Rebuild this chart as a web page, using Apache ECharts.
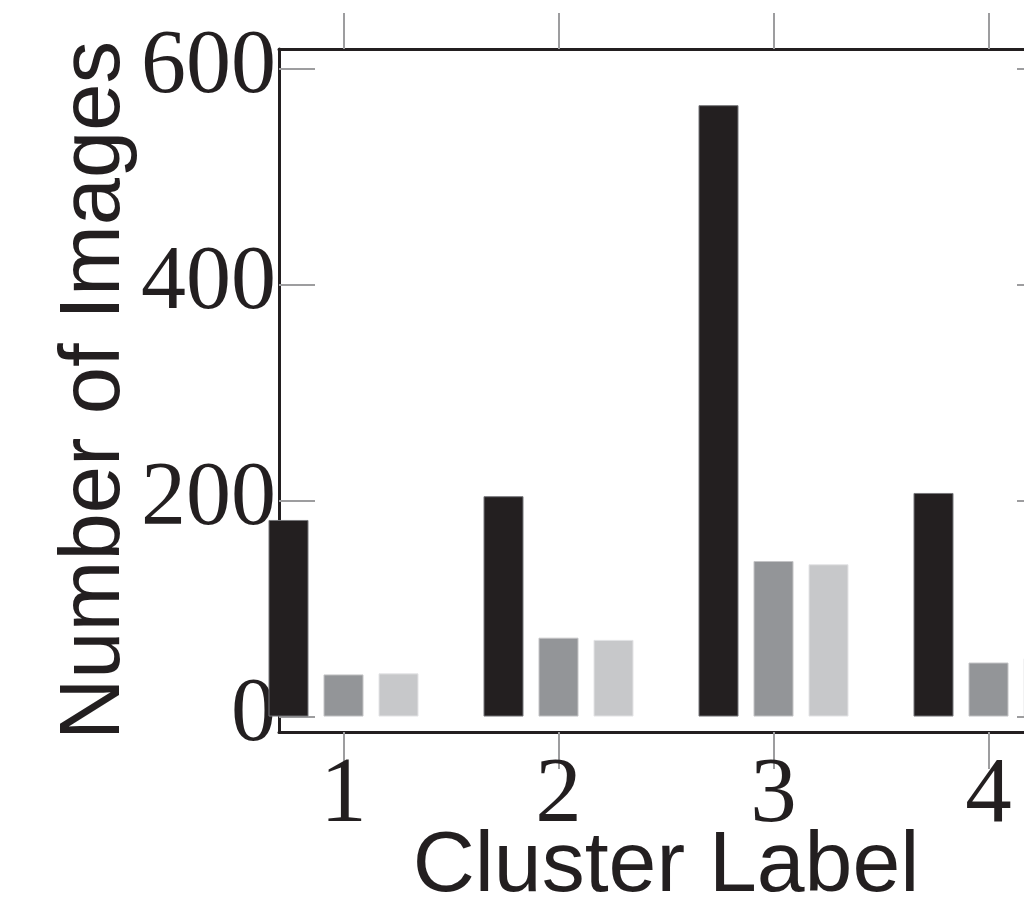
<!DOCTYPE html>
<html><head><meta charset="utf-8">
<script src="https://cdn.jsdelivr.net/npm/echarts@6/dist/echarts.min.js"></script>
<style>html,body{margin:0;padding:0;background:#fff}#c{width:1024px;height:912px}</style>
</head><body><div id="c"></div>
<script>
const clusters = [1, 2, 3, 4];
const seriesDark = [182, 204, 566, 207];
const seriesMid = [39, 73, 144, 50];
const seriesLight = [40, 71, 141, 54];
const yTicks = [0, 200, 400, 600];
const xName = 'Cluster Label';
const yName = 'Number of Images';

const frame = '#231f20';
const tickColor = '#9d9d9f';
const serif = '"Liberation Serif", "Times New Roman", serif';
const sans = '"Liberation Sans", Arial, sans-serif';

function pairs(vals) { return clusters.map((c, i) => [c, vals[i]]); }

const chart = echarts.init(document.getElementById('c'), null, { renderer: 'canvas' });
chart.setOption({
  animation: false,
  backgroundColor: '#ffffff',
  grid: { left: 279, top: 49, width: 774, height: 683, containLabel: false, outerBoundsMode: 'none' },
  xAxis: [
    {
      type: 'value', position: 'bottom', min: 0.7, max: 4.3,
      name: xName, nameLocation: 'middle', nameGap: 92, nameMoveOverlap: false,
      nameTextStyle: { fontFamily: sans, fontSize: 86, color: frame },
      axisLine: { show: true, onZero: false, lineStyle: { color: frame, width: 3 } },
      axisTick: { show: true, inside: false, length: 37, customValues: clusters, lineStyle: { color: tickColor, width: 2 } },
      axisLabel: { show: true, customValues: clusters, margin: 18, fontFamily: serif, fontSize: 93, color: frame, formatter: v => String(v) },
      splitLine: { show: false }
    },
    {
      type: 'value', position: 'top', min: 0.7, max: 4.3,
      axisLine: { show: true, onZero: false, lineStyle: { color: frame, width: 3 } },
      axisTick: { show: true, inside: false, length: 36, customValues: clusters, lineStyle: { color: tickColor, width: 2 } },
      axisLabel: { show: false },
      splitLine: { show: false }
    }
  ],
  yAxis: [
    {
      type: 'value', position: 'left', min: -14.3, max: 618,
      name: yName, nameLocation: 'middle', nameGap: 141, nameRotate: 90, nameMoveOverlap: false,
      nameTextStyle: { fontFamily: sans, fontSize: 85, color: frame },
      axisLine: { show: true, onZero: false, lineStyle: { color: frame, width: 3 } },
      axisTick: { show: true, inside: true, length: 36, customValues: yTicks, lineStyle: { color: tickColor, width: 2 } },
      axisLabel: { show: true, customValues: yTicks, margin: 3, fontFamily: serif, fontSize: 90, color: frame },
      splitLine: { show: false }
    },
    {
      type: 'value', position: 'right', min: -14.3, max: 618,
      axisLine: { show: true, onZero: false, lineStyle: { color: frame, width: 3 } },
      axisTick: { show: true, inside: true, length: 36, customValues: yTicks, lineStyle: { color: tickColor, width: 2 } },
      axisLabel: { show: false },
      splitLine: { show: false }
    }
  ],
  series: [
    { type: 'bar', xAxisIndex: 0, yAxisIndex: 0, data: pairs(seriesDark), barWidth: 40, barGap: '37.5%', clip: true,
      itemStyle: { color: '#231f20', borderColor: '#77777a', borderWidth: 1 } },
    { type: 'bar', xAxisIndex: 0, yAxisIndex: 0, data: pairs(seriesMid), barWidth: 40, barGap: '37.5%', clip: true,
      itemStyle: { color: '#939598', borderColor: '#c4c4c6', borderWidth: 1 } },
    { type: 'bar', xAxisIndex: 0, yAxisIndex: 0, data: pairs(seriesLight), barWidth: 40, barGap: '37.5%', clip: true,
      itemStyle: { color: '#c7c8ca', borderColor: '#e4e4e6', borderWidth: 1 } }
  ]
});
</script></body></html>
